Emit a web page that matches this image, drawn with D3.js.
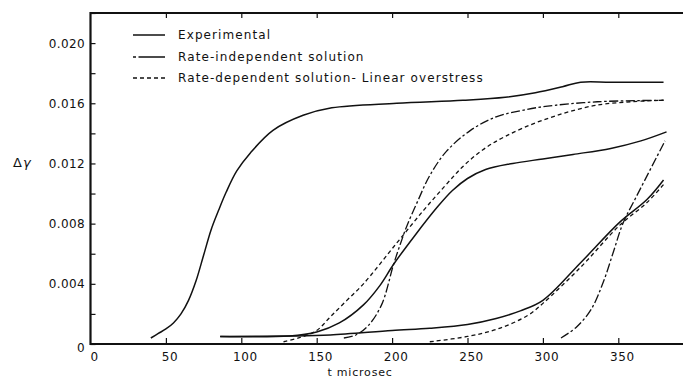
<!DOCTYPE html>
<html><head><meta charset="utf-8">
<script src="https://cdn.jsdelivr.net/npm/d3@7"></script>
<style>
html,body{margin:0;padding:0;background:#fff;overflow:hidden}
text{font-family:"DejaVu Sans",sans-serif;fill:#111}
</style></head>
<body><svg id="c" width="683" height="379"></svg>
<script>
// ---- data (t in microsec, Δγ) ----
const xTicks = [0,50,100,150,200,250,300,350];
const yTicks = [0,0.004,0.008,0.012,0.016,0.020];
const yTickLabels = ["0","0.004","0.008","0.012","0.016","0.020"];
const legendLabels = ["Experimental","Rate-independent  solution","Rate-dependent solution- Linear overstress"];

const expTop = [[40,0.0004],[45,0.0007],[50,0.0010],[55,0.0014],[60,0.0020],[65,0.0029],[70,0.0042],[75,0.0059],[80,0.0076],[85,0.0089],[90,0.0101],[97,0.0115],[106,0.0127],[121,0.0142],[141,0.0152],[160,0.0157],[203,0.0160],[247,0.0162],[275,0.0164],[295,0.0167],[313,0.0171],[325,0.0174],[345,0.0174],[380,0.0174]];
const expMid = [[86,0.0005],[132,0.00053],[150,0.0008],[165,0.0014],[181,0.0026],[192,0.0039],[201,0.0053],[215,0.0072],[230,0.0091],[240,0.0102],[250,0.0110],[262,0.0116],[280,0.0120],[300,0.0123],[320,0.0126],[345,0.0130],[365,0.0135],[382,0.0141]];
const expLow = [[86,0.0005],[132,0.00053],[159,0.0006],[200,0.0009],[225,0.00105],[250,0.0013],[269,0.0017],[285,0.0022],[300,0.0029],[325,0.0054],[351,0.0081],[369,0.0096],[380,0.0109]];
const riTop = [[168,0.0004],[176,0.0006],[184,0.0012],[193,0.0026],[201,0.0053],[206,0.0068],[210,0.0079],[217,0.0095],[225,0.0112],[236,0.0128],[252,0.0142],[269,0.0151],[285,0.0155],[300,0.01577],[336,0.0161],[380,0.0162]];
const riLow = [[312,0.0004],[322,0.0011],[332,0.0023],[340,0.0041],[347,0.0062],[353,0.0080],[362,0.0098],[381,0.0135]];
const rdTop = [[128,0.00015],[138,0.0004],[150,0.0009],[159,0.0018],[170,0.0029],[181,0.0040],[203,0.0067],[221,0.0089],[235,0.0105],[247,0.0118],[260,0.0129],[275,0.0138],[300,0.01488],[336,0.01588],[380,0.0162]];
const rdLow = [[225,0.00015],[250,0.0005],[270,0.0010],[290,0.0019],[300,0.0027],[325,0.0051],[351,0.0079],[369,0.0094],[380,0.0106]];

const svg = d3.select("#c");
const x = d3.scaleLinear().domain([0,400]).range([90.5,693.7]);
const y = d3.scaleLinear().domain([0,0.022]).range([344,13]);

const styles = {
  solid:{dash:null,w:1.5},
  dashdot:{dash:"9,2.5,2.5,2.5",w:1.3},
  dashed:{dash:"4,3",w:1.3}
};
const series = [
  {d:expTop,s:"solid"},{d:expMid,s:"solid"},{d:expLow,s:"solid"},
  {d:riTop,s:"dashdot"},{d:riLow,s:"dashdot"},
  {d:rdTop,s:"dashed"},{d:rdLow,s:"dashed"}
];
const line = d3.line().x(d=>x(d[0])).y(d=>y(d[1])).curve(d3.curveCatmullRom.alpha(0.5));
series.forEach(o=>{
  svg.append("path").attr("d",line(o.d)).attr("fill","none").attr("stroke","#111")
    .attr("stroke-width",styles[o.s].w).attr("stroke-dasharray",styles[o.s].dash)
    .attr("stroke-linejoin","round");
});

// frame
const x0=x(0), x1=x(400), yb=y(0), yt=y(0.022);
svg.append("line").attr("x1",x0).attr("x2",x1).attr("y1",yb).attr("y2",yb).attr("stroke","#111").attr("stroke-width",2.2);
svg.append("line").attr("x1",x0).attr("x2",x1).attr("y1",yt).attr("y2",yt).attr("stroke","#111").attr("stroke-width",2);
svg.append("line").attr("x1",x0).attr("x2",x0).attr("y1",yt-1).attr("y2",yb+1).attr("stroke","#111").attr("stroke-width",2.2);

// bottom axis (ticks inward)
const gx = svg.append("g").attr("transform",`translate(0,${yb})`)
  .call(d3.axisBottom(x).tickValues(xTicks.slice(1)).tickSize(-6).tickFormat(""));
gx.select(".domain").remove();
gx.selectAll("line").attr("stroke","#111").attr("stroke-width",1.2);
// top ticks
const gt = svg.append("g").attr("transform",`translate(0,${yt})`)
  .call(d3.axisTop(x).tickValues(xTicks.slice(1)).tickSize(-5).tickFormat(""));
gt.select(".domain").remove();
gt.selectAll("line").attr("stroke","#111").attr("stroke-width",1.2);
// x labels
svg.selectAll(".xl").data(xTicks).enter().append("text")
  .attr("x",d=>x(d)+4).attr("y",361).attr("text-anchor","middle")
  .attr("font-size",12).attr("letter-spacing",0.6).text(d=>d);
svg.append("text").attr("x",360).attr("y",376).attr("text-anchor","middle")
  .attr("font-size",11).attr("letter-spacing",0.8).text("t  microsec");

// left axis ticks (inward, every 0.002)
const gy = svg.append("g").attr("transform",`translate(${x0},0)`)
  .call(d3.axisLeft(y).tickValues(d3.range(0,0.0221,0.002)).tickSize(-5).tickFormat(""));
gy.select(".domain").remove();
gy.selectAll("line").attr("stroke","#111").attr("stroke-width",1.2);
svg.selectAll(".yl").data(yTicks).enter().append("text")
  .attr("x",85).attr("y",(d,i)=>y(d)+(i===0?8:4.5)).attr("text-anchor","end")
  .attr("font-size",12).attr("letter-spacing",0.4).text((d,i)=>yTickLabels[i]);
svg.append("text").attr("x",13).attr("y",167).attr("font-size",13).text("Δ")
  .append("tspan").attr("font-style","italic").attr("dx",1).text("γ");

// legend
const ly=[35,57,78];
const lstyle=["solid","dashdot","dashed"];
legendLabels.forEach((t,i)=>{
  svg.append("line").attr("x1",133).attr("x2",165).attr("y1",ly[i]).attr("y2",ly[i])
    .attr("stroke","#111").attr("stroke-width",styles[lstyle[i]].w)
    .attr("stroke-dasharray",i===1?"3,2.5,30":styles[lstyle[i]].dash);
  svg.append("text").attr("x",178).attr("y",ly[i]+4).attr("font-size",12)
    .attr("letter-spacing",1.1).text(t);
});
</script></body></html>
